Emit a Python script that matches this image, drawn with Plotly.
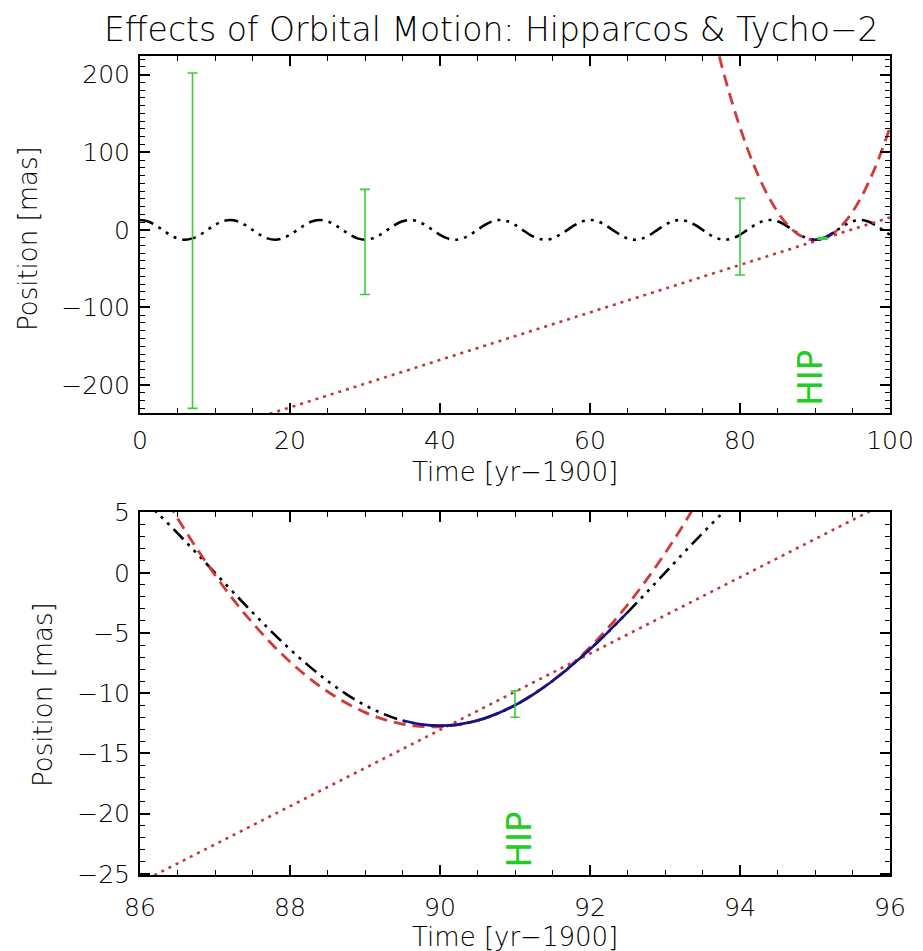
import plotly.graph_objects as go

# page is rendered with the browser's default 8px body margin
PAGE_W, PAGE_H = 923, 951
OFF = 8
W, H = PAGE_W - OFF, PAGE_H - OFF

# ---------------- data ----------------
# orbit (black dash-dot-dot-dot), top panel, yearly samples t = 0..100
top_orbit_t = list(range(0, 101))
top_orbit_pos = [
    12.7, 11.0, 6.35, 0.0, -6.35, -11.0, -12.7, -11.0, -6.35, 0.0, 6.35, 11.0,
    12.7, 11.0, 6.35, 0.0, -6.35, -11.0, -12.7, -11.0, -6.35, 0.0, 6.35, 11.0,
    12.7, 11.0, 6.35, 0.0, -6.35, -11.0, -12.7, -11.0, -6.35, 0.0, 6.35, 11.0,
    12.7, 11.0, 6.35, 0.0, -6.35, -11.0, -12.7, -11.0, -6.35, 0.0, 6.35, 11.0,
    12.7, 11.0, 6.35, 0.0, -6.35, -11.0, -12.7, -11.0, -6.35, 0.0, 6.35, 11.0,
    12.7, 11.0, 6.35, 0.0, -6.35, -11.0, -12.7, -11.0, -6.35, 0.0, 6.35, 11.0,
    12.7, 11.0, 6.35, 0.0, -6.35, -11.0, -12.7, -11.0, -6.35, 0.0, 6.35, 11.0,
    12.7, 11.0, 6.35, 0.0, -6.35, -11.0, -12.7, -11.0, -6.35, 0.0, 6.35, 11.0,
    12.7, 11.0, 6.35, 0.0, -6.35,
]

# orbit, bottom panel (zoom), quarter-year samples
bot_orbit_t = [86.0, 86.25, 86.5, 86.75, 87.0, 87.25, 87.5, 87.75, 88.0, 88.25, 88.5,
               88.75, 89.0, 89.25, 89.5, 89.75, 90.0, 90.25, 90.5, 90.75, 91.0, 91.25,
               91.5, 91.75, 92.0, 92.25, 92.5, 92.75, 93.0, 93.25, 93.5, 93.75, 94.0]
bot_orbit_pos = [6.35, 4.86, 3.29, 1.66, 0.0, -1.66, -3.29, -4.86, -6.35, -7.73, -8.98,
                 -10.07, -11.0, -11.73, -12.27, -12.59, -12.7, -12.59, -12.27, -11.73, -11.0, -10.07,
                 -8.98, -7.73, -6.35, -4.86, -3.29, -1.66, 0.0, 1.66, 3.29, 4.86, 6.35]

# Hipparcos-interval segment (solid blue)
hip_t = [89.5, 89.75, 90.0, 90.25, 90.5, 90.75, 91.0, 91.25, 91.5, 91.75, 92.0, 92.25, 92.5]
hip_pos = [-12.27, -12.59, -12.7, -12.59, -12.27, -11.73, -11.0, -10.07, -8.98, -7.73, -6.35, -4.86, -3.29]

# quadratic (acceleration) model, red dashed
top_quad_t = [76, 78, 80, 82, 84, 86, 88, 90, 92, 94, 96, 98, 100]
top_quad_pos = [271.2, 195.8, 132.0, 79.8, 39.2, 10.2, -7.2, -13.0, -7.2, 10.2, 39.2, 79.8, 132.0]
bot_quad_t = [86.0, 86.5, 87.0, 87.5, 88.0, 88.5, 89.0, 89.5, 90.0, 90.5, 91.0, 91.5,
              92.0, 92.5, 93.0, 93.5, 94.0]
bot_quad_pos = [10.0, 4.54, -0.19, -4.16, -7.39, -9.86, -11.59, -12.56, -12.79, -12.26, -10.99, -8.96,
                -6.19, -2.66, 1.62, 6.64, 12.4]

# linear model, red dotted
top_lin_t = [0, 100]
top_lin_pos = [-290.0, 16.0]
bot_lin_t = [86.0, 96.0]
bot_lin_pos = [-25.73, 5.97]

# measurements with error bars (green)
meas_t = [7, 30, 80, 91]
meas_pos = [-14.0, -15.6, -8.8, -10.9]
meas_err = [216.0, 67.7, 49.4, 1.1]

# labels
hip_label_top = (89.3, -191.0)
hip_label_bot = (91.06, -22.2)

# ---------------- styling ----------------
FONT = "DejaVu Sans ExtraLight, DejaVu Sans Light, DejaVu Sans"
HIP_FONT = "DejaVu Sans"
BLACK_DASH = "14px,6px,3px,6px,3px,6px,3px,6px"
RED = "#d23a3a"
RED_DOT = "#c43440"
BLUE = "#14148a"
GREEN = "#3ccc3c"
HIP_GREEN = "#22cc22"

fig = go.Figure()


def add_panel(xa, ya, orbit_t, orbit_pos, quad_t, quad_pos, lin_t, lin_pos, capw):
    fig.add_trace(go.Scatter(x=orbit_t, y=orbit_pos, mode="lines", xaxis=xa, yaxis=ya,
                             line=dict(color="black", width=2.6, dash=BLACK_DASH, shape="spline"),
                             showlegend=False, hoverinfo="skip"))
    fig.add_trace(go.Scatter(x=quad_t, y=quad_pos, mode="lines", xaxis=xa, yaxis=ya,
                             line=dict(color=RED, width=2.8, dash="12px,7px", shape="spline"),
                             showlegend=False, hoverinfo="skip"))
    fig.add_trace(go.Scatter(x=lin_t, y=lin_pos, mode="lines", xaxis=xa, yaxis=ya,
                             line=dict(color=RED_DOT, width=2.6, dash="3px,5px"),
                             showlegend=False, hoverinfo="skip"))
    fig.add_trace(go.Scatter(x=hip_t, y=hip_pos, mode="lines", xaxis=xa, yaxis=ya,
                             line=dict(color=BLUE, width=2.6, shape="spline"),
                             showlegend=False, hoverinfo="skip"))
    fig.add_trace(go.Scatter(x=meas_t, y=meas_pos, mode="markers", xaxis=xa, yaxis=ya,
                             marker=dict(size=2, color=GREEN, opacity=0),
                             error_y=dict(type="data", array=meas_err, color=GREEN,
                                          thickness=1.6, width=capw),
                             showlegend=False, hoverinfo="skip"))


add_panel("x", "y", top_orbit_t, top_orbit_pos, top_quad_t, top_quad_pos, top_lin_t, top_lin_pos, 5)
add_panel("x2", "y2", bot_orbit_t, bot_orbit_pos, bot_quad_t, bot_quad_pos, bot_lin_t, bot_lin_pos, 4.5)


def px_x(p):
    return (p - OFF) / W


def px_y(p):
    return 1 - (p - OFF) / H


axis_common = dict(showline=True, linecolor="black", linewidth=2, mirror="allticks",
                   ticks="inside", ticklen=10, tickwidth=1.5, tickcolor="black",
                   showgrid=False, zeroline=False, automargin=False,
                   tickfont=dict(family=FONT, size=25, color="black"))

fig.update_layout(
    template="none",
    width=W, height=H,
    margin=dict(l=0, r=0, t=0, b=0, pad=0),
    paper_bgcolor="white", plot_bgcolor="white",
    showlegend=False,
    xaxis=dict(domain=[px_x(140), px_x(890)], anchor="y", range=[0, 100],
               tick0=0, dtick=20, ticklabelstandoff=4,
               minor=dict(dtick=5, ticks="inside", ticklen=5, tickwidth=1.2, tickcolor="black"),
               **axis_common),
    yaxis=dict(domain=[px_y(413), px_y(56)], anchor="x", range=[-236, 224],
               tick0=0, dtick=100, ticklabelstandoff=3,
               minor=dict(dtick=10, ticks="inside", ticklen=5, tickwidth=1.2, tickcolor="black"),
               **axis_common),
    xaxis2=dict(domain=[px_x(140), px_x(890)], anchor="y2", range=[86, 96],
                tick0=86, dtick=2, ticklabelstandoff=9,
                minor=dict(dtick=0.5, ticks="inside", ticklen=5, tickwidth=1.2, tickcolor="black"),
                **axis_common),
    yaxis2=dict(domain=[px_y(875), px_y(512)], anchor="x2", range=[-25.1, 5.05],
                tick0=0, dtick=5, ticklabelstandoff=3,
                minor=dict(dtick=1, ticks="inside", ticklen=5, tickwidth=1.2, tickcolor="black"),
                **axis_common),
)

annotations = [
    dict(text="Effects of Orbital Motion: Hipparcos & Tycho\u22122", x=px_x(491), y=px_y(29),
         xref="paper", yref="paper", xanchor="center", yanchor="middle", showarrow=False,
         borderpad=0, font=dict(family=FONT, size=33, color="black")),
    dict(text="Position [mas]", x=px_x(28), y=px_y(239), xref="paper", yref="paper",
         xanchor="center", yanchor="middle", textangle=-90, showarrow=False,
         font=dict(family=FONT, size=26, color="black")),
    dict(text="Position [mas]", x=px_x(43), y=px_y(695), xref="paper", yref="paper",
         xanchor="center", yanchor="middle", textangle=-90, showarrow=False,
         font=dict(family=FONT, size=26, color="black")),
    dict(text="Time [yr\u22121900]", x=px_x(515), y=px_y(472), xref="paper", yref="paper",
         xanchor="center", yanchor="middle", showarrow=False,
         font=dict(family=FONT, size=26, color="black")),
    dict(text="Time [yr\u22121900]", x=px_x(515), y=px_y(937), xref="paper", yref="paper",
         xanchor="center", yanchor="middle", showarrow=False,
         font=dict(family=FONT, size=26, color="black")),
    dict(text="HIP", x=hip_label_top[0], y=hip_label_top[1], xref="x", yref="y",
         xanchor="center", yanchor="middle", textangle=-90, showarrow=False,
         font=dict(family=HIP_FONT, size=34, color=HIP_GREEN)),
    dict(text="HIP", x=hip_label_bot[0], y=hip_label_bot[1], xref="x2", yref="y2",
         xanchor="center", yanchor="middle", textangle=-90, showarrow=False,
         font=dict(family=HIP_FONT, size=34, color=HIP_GREEN)),
]
fig.update_layout(annotations=annotations)

fig.write_html("out.html")
